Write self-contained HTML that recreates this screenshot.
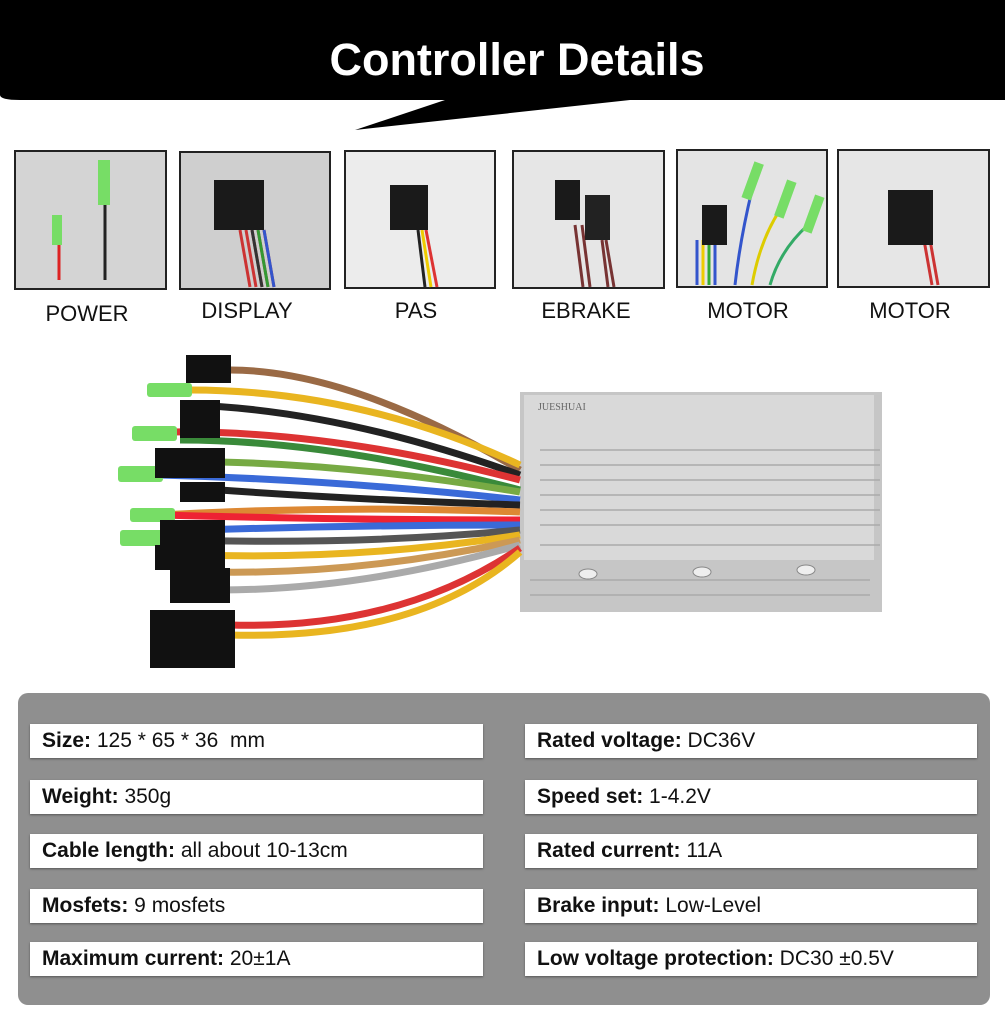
<!DOCTYPE html>
<html><head><style>
body{margin:0;width:1005px;height:1024px;background:#fff;position:relative;overflow:hidden;font-family:"Liberation Sans",sans-serif}
.lbl{position:absolute;font-size:22px;color:#111;text-align:center;width:160px}
.row{position:absolute;background:#fff;height:34px;line-height:34px;font-size:21px;color:#111;padding-left:12px;box-sizing:border-box;box-shadow:0 1px 2px #555}
.row b{font-weight:bold}
</style></head><body>
<svg width="1005" height="1024" style="position:absolute;left:0;top:0">
<path d="M0 0H1005V100H630L355 130L445 100H20Q0 100 0 95Z" fill="#000"/>
<text x="517" y="75" font-family="Liberation Sans" font-weight="bold" font-size="45" fill="#fff" text-anchor="middle">Controller Details</text>
<g stroke="#222" stroke-width="2">
<rect x="15" y="151" width="151" height="138" fill="#d4d4d4"/>
<rect x="180" y="152" width="150" height="137" fill="#cfcfcf"/>
<rect x="345" y="151" width="150" height="137" fill="#ececec"/>
<rect x="513" y="151" width="151" height="137" fill="#e6e6e6"/>
<rect x="677" y="150" width="150" height="137" fill="#e4e4e4"/>
<rect x="838" y="150" width="151" height="137" fill="#e6e6e6"/>
</g>
<!-- thumbnail wires -->
<g fill="none" stroke-width="3">
<path d="M59 280V225" stroke="#d22"/><rect x="52" y="215" width="10" height="30" fill="#7d6" stroke="none"/>
<path d="M105 280V200" stroke="#222"/><rect x="98" y="160" width="12" height="45" fill="#7d6" stroke="none"/>
<path d="M250 287L240 230M256 287L246 230M262 287L252 230M268 287L258 230M274 287L264 230" stroke="#c33"/>
<path d="M262 287L252 230" stroke="#333"/><path d="M268 287L258 230" stroke="#393"/><path d="M274 287L264 230" stroke="#35c"/>
<rect x="214" y="180" width="50" height="50" fill="#1a1a1a" stroke="none"/>
<path d="M425 287L418 230" stroke="#222"/><path d="M431 287L422 230" stroke="#ec0"/><path d="M437 287L426 230" stroke="#d33"/>
<rect x="390" y="185" width="38" height="45" fill="#1a1a1a" stroke="none"/>
<path d="M583 287L575 225M590 287L582 225M608 287L602 240M614 287L606 240" stroke="#733"/>
<rect x="555" y="180" width="25" height="40" fill="#1a1a1a" stroke="none"/><rect x="585" y="195" width="25" height="45" fill="#222" stroke="none"/>
<path d="M697 285V240M703 285V240M709 285V240M715 285V240" stroke="#35c"/><path d="M703 285V240" stroke="#ec0"/><path d="M709 285V240" stroke="#3a3"/>
<path d="M735 285Q740 240 752 190" stroke="#35c"/><path d="M752 285Q760 240 780 210" stroke="#dc0"/><path d="M770 285Q780 250 808 225" stroke="#3a6"/>
<rect x="702" y="205" width="25" height="40" fill="#1a1a1a" stroke="none"/>
<rect x="748" y="162" width="10" height="38" fill="#7d6" stroke="none" transform="rotate(20 753 180)"/>
<rect x="780" y="180" width="10" height="38" fill="#7d6" stroke="none" transform="rotate(20 785 200)"/>
<rect x="808" y="195" width="10" height="38" fill="#7d6" stroke="none" transform="rotate(20 813 215)"/>
<path d="M932 285L924 240M938 285L930 240" stroke="#c33"/>
<rect x="888" y="190" width="45" height="55" fill="#1a1a1a" stroke="none"/>
</g>
<!-- controller -->
<rect x="520" y="392" width="362" height="220" fill="#c6c6c6"/>
<rect x="524" y="395" width="350" height="165" fill="#d9d9d9"/>
<g stroke="#aaa" stroke-width="1.5">
<line x1="540" y1="450" x2="880" y2="450"/><line x1="540" y1="465" x2="880" y2="465"/><line x1="540" y1="480" x2="880" y2="480"/><line x1="540" y1="495" x2="880" y2="495"/><line x1="540" y1="510" x2="880" y2="510"/><line x1="540" y1="525" x2="880" y2="525"/><line x1="540" y1="545" x2="880" y2="545"/><line x1="530" y1="580" x2="870" y2="580"/><line x1="530" y1="595" x2="870" y2="595"/>
</g>
<text x="538" y="410" font-family="Liberation Serif" font-size="10" fill="#666">JUESHUAI</text>
<g fill="#eee" stroke="#888"><ellipse cx="588" cy="574" rx="9" ry="5"/><ellipse cx="702" cy="572" rx="9" ry="5"/><ellipse cx="806" cy="570" rx="9" ry="5"/></g>
<!-- wires -->
<g fill="none" stroke-width="7">
<path d="M230 370Q350 370 520 470" stroke="#9a6a45"/>
<path d="M190 390Q360 390 520 465" stroke="#e9b520"/>
<path d="M190 405Q340 410 520 475" stroke="#222"/>
<path d="M170 432Q330 430 520 480" stroke="#d33"/>
<path d="M180 440Q330 440 520 490" stroke="#3a8a3a"/>
<path d="M220 462Q360 465 520 492" stroke="#7a4"/>
<path d="M160 475Q340 480 520 500" stroke="#3a6ad8"/>
<path d="M220 490Q360 500 520 505" stroke="#222"/>
<path d="M160 515Q340 505 520 512" stroke="#d83"/>
<path d="M160 515Q340 520 520 520" stroke="#e23"/>
<path d="M200 530Q360 525 520 525" stroke="#3a6ad8"/>
<path d="M180 540Q360 545 520 530" stroke="#555"/>
<path d="M200 555Q360 560 520 535" stroke="#e9b520"/>
<path d="M210 572Q360 575 520 540" stroke="#c95"/>
<path d="M220 590Q360 590 520 545" stroke="#aaa"/>
<path d="M230 625Q400 630 520 548" stroke="#d33"/>
<path d="M230 635Q420 640 520 552" stroke="#e9b520"/>
</g>
<g fill="#7d6"><rect x="147" y="383" width="45" height="14" rx="3"/><rect x="132" y="426" width="45" height="15" rx="3"/><rect x="118" y="466" width="45" height="16" rx="3"/><rect x="130" y="508" width="45" height="14" rx="3"/><rect x="120" y="530" width="60" height="16" rx="3"/></g>
<g fill="#111"><rect x="186" y="355" width="45" height="28"/><rect x="180" y="400" width="40" height="20"/><rect x="180" y="418" width="40" height="20"/><rect x="155" y="448" width="70" height="30"/><rect x="180" y="482" width="45" height="20"/><rect x="160" y="520" width="65" height="30"/><rect x="155" y="545" width="70" height="25"/><rect x="170" y="568" width="60" height="35"/><rect x="150" y="610" width="85" height="58"/></g>
<rect x="18" y="693" width="972" height="312" rx="10" fill="#8f8f8f"/>
</svg>
<div class="lbl" style="left:7px;top:301px">POWER</div>
<div class="lbl" style="left:167px;top:298px">DISPLAY</div>
<div class="lbl" style="left:336px;top:298px">PAS</div>
<div class="lbl" style="left:506px;top:298px">EBRAKE</div>
<div class="lbl" style="left:668px;top:298px">MOTOR</div>
<div class="lbl" style="left:830px;top:298px">MOTOR</div>
<div class="row" style="left:30px;top:724px;width:453px"><b>Size:</b> 125 * 65 * 36&nbsp; mm</div>
<div class="row" style="left:30px;top:780px;width:453px"><b>Weight:</b> 350g</div>
<div class="row" style="left:30px;top:834px;width:453px"><b>Cable length:</b> all about 10-13cm</div>
<div class="row" style="left:30px;top:889px;width:453px"><b>Mosfets:</b> 9 mosfets</div>
<div class="row" style="left:30px;top:942px;width:453px"><b>Maximum current:</b> 20±1A</div>
<div class="row" style="left:525px;top:724px;width:452px"><b>Rated voltage:</b> DC36V</div>
<div class="row" style="left:525px;top:780px;width:452px"><b>Speed set:</b> 1-4.2V</div>
<div class="row" style="left:525px;top:834px;width:452px"><b>Rated current:</b> 11A</div>
<div class="row" style="left:525px;top:889px;width:452px"><b>Brake input:</b> Low-Level</div>
<div class="row" style="left:525px;top:942px;width:452px"><b>Low voltage protection:</b> DC30 ±0.5V</div>
</body></html>
